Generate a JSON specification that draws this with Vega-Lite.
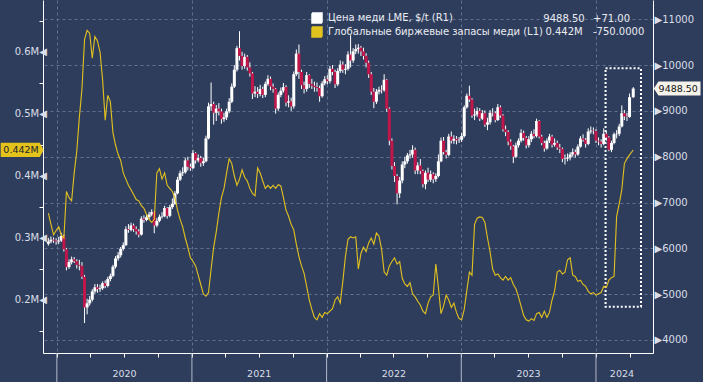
{
"$schema": "https://vega.github.io/schema/vega-lite/v6.json",
"width": 610, "height": 353,
"autosize": "none",
"padding": {"left": 43, "top": 0, "right": 50, "bottom": 29},
"background": "#2f3d5d",
"config": {
  "view": {"stroke": null},
  "font": "DejaVu Sans",
  "axis": {"labelFont": "DejaVu Sans", "labelColor": "#d9dee7", "domainColor": "#e8e8e8", "tickColor": "#ffffff", "gridColor": "#62708f", "gridDash": [3,3], "gridWidth": 1},
  "legend": {"labelFont": "DejaVu Sans", "labelFontSize": 10, "labelColor": "#e9ecf1", "labelLimit": 400}
},
"data": {"format": {"parse": {"d": "date:'%Y-%m-%d'"}}, "values": [
{"d":"2019-12-09","o":6100,"h":6230,"l":6060,"c":6150,"s":0.340},
{"d":"2019-12-16","o":6150,"h":6260,"l":6110,"c":6190,"s":0.322},
{"d":"2019-12-23","o":6190,"h":6240,"l":6120,"c":6170,"s":0.305},
{"d":"2019-12-30","o":6170,"h":6220,"l":6080,"c":6150,"s":0.312},
{"d":"2020-01-06","o":6150,"h":6250,"l":6090,"c":6170,"s":0.318},
{"d":"2020-01-13","o":6170,"h":6340,"l":6140,"c":6270,"s":0.305},
{"d":"2020-01-20","o":6270,"h":6300,"l":5930,"c":5980,"s":0.300},
{"d":"2020-01-27","o":5980,"h":6010,"l":5520,"c":5590,"s":0.375},
{"d":"2020-02-03","o":5590,"h":5760,"l":5550,"c":5700,"s":0.365},
{"d":"2020-02-10","o":5700,"h":5820,"l":5650,"c":5760,"s":0.360},
{"d":"2020-02-17","o":5760,"h":5810,"l":5680,"c":5720,"s":0.405},
{"d":"2020-02-24","o":5720,"h":5760,"l":5560,"c":5640,"s":0.440},
{"d":"2020-03-02","o":5640,"h":5750,"l":5520,"c":5620,"s":0.495},
{"d":"2020-03-09","o":5620,"h":5700,"l":5330,"c":5380,"s":0.540},
{"d":"2020-03-16","o":5380,"h":5420,"l":4370,"c":4710,"s":0.620},
{"d":"2020-03-23","o":4710,"h":4900,"l":4560,"c":4800,"s":0.635},
{"d":"2020-03-30","o":4800,"h":4960,"l":4750,"c":4880,"s":0.630},
{"d":"2020-04-06","o":4880,"h":5110,"l":4840,"c":5060,"s":0.590},
{"d":"2020-04-13","o":5060,"h":5220,"l":5010,"c":5150,"s":0.625},
{"d":"2020-04-20","o":5150,"h":5220,"l":5030,"c":5110,"s":0.618},
{"d":"2020-04-27","o":5110,"h":5210,"l":5050,"c":5130,"s":0.600},
{"d":"2020-05-04","o":5130,"h":5280,"l":5090,"c":5240,"s":0.555},
{"d":"2020-05-11","o":5240,"h":5300,"l":5130,"c":5180,"s":0.490},
{"d":"2020-05-18","o":5180,"h":5380,"l":5150,"c":5330,"s":0.530},
{"d":"2020-05-25","o":5330,"h":5450,"l":5280,"c":5400,"s":0.520},
{"d":"2020-06-01","o":5400,"h":5640,"l":5370,"c":5600,"s":0.470},
{"d":"2020-06-08","o":5600,"h":5830,"l":5560,"c":5780,"s":0.450},
{"d":"2020-06-15","o":5780,"h":5920,"l":5730,"c":5850,"s":0.435},
{"d":"2020-06-22","o":5850,"h":6030,"l":5800,"c":5990,"s":0.425},
{"d":"2020-06-29","o":5990,"h":6130,"l":5950,"c":6070,"s":0.405},
{"d":"2020-07-06","o":6070,"h":6480,"l":6050,"c":6420,"s":0.395},
{"d":"2020-07-13","o":6420,"h":6530,"l":6340,"c":6400,"s":0.385},
{"d":"2020-07-20","o":6400,"h":6560,"l":6370,"c":6500,"s":0.378},
{"d":"2020-07-27","o":6500,"h":6540,"l":6360,"c":6420,"s":0.370},
{"d":"2020-08-03","o":6420,"h":6480,"l":6300,"c":6370,"s":0.362},
{"d":"2020-08-10","o":6370,"h":6420,"l":6240,"c":6300,"s":0.360},
{"d":"2020-08-17","o":6300,"h":6700,"l":6280,"c":6650,"s":0.352},
{"d":"2020-08-24","o":6650,"h":6720,"l":6560,"c":6620,"s":0.348},
{"d":"2020-08-31","o":6620,"h":6740,"l":6590,"c":6680,"s":0.338},
{"d":"2020-09-07","o":6680,"h":6800,"l":6640,"c":6740,"s":0.330},
{"d":"2020-09-14","o":6740,"h":6850,"l":6700,"c":6790,"s":0.325},
{"d":"2020-09-21","o":6790,"h":6810,"l":6330,"c":6500,"s":0.330},
{"d":"2020-09-28","o":6500,"h":6660,"l":6460,"c":6600,"s":0.405},
{"d":"2020-10-05","o":6600,"h":6740,"l":6570,"c":6690,"s":0.412},
{"d":"2020-10-12","o":6690,"h":6790,"l":6650,"c":6700,"s":0.395},
{"d":"2020-10-19","o":6700,"h":6930,"l":6680,"c":6880,"s":0.405},
{"d":"2020-10-26","o":6880,"h":6900,"l":6650,"c":6710,"s":0.385},
{"d":"2020-11-02","o":6710,"h":6950,"l":6680,"c":6900,"s":0.380},
{"d":"2020-11-09","o":6900,"h":7090,"l":6860,"c":6970,"s":0.375},
{"d":"2020-11-16","o":6970,"h":7250,"l":6950,"c":7200,"s":0.365},
{"d":"2020-11-23","o":7200,"h":7560,"l":7180,"c":7500,"s":0.345},
{"d":"2020-11-30","o":7500,"h":7700,"l":7470,"c":7640,"s":0.330},
{"d":"2020-12-07","o":7640,"h":7770,"l":7580,"c":7660,"s":0.318},
{"d":"2020-12-14","o":7660,"h":7980,"l":7630,"c":7920,"s":0.300},
{"d":"2020-12-21","o":7920,"h":8000,"l":7700,"c":7780,"s":0.285},
{"d":"2020-12-28","o":7780,"h":7850,"l":7690,"c":7750,"s":0.268},
{"d":"2021-01-04","o":7750,"h":8150,"l":7730,"c":8080,"s":0.262},
{"d":"2021-01-11","o":8080,"h":8100,"l":7850,"c":7920,"s":0.255},
{"d":"2021-01-18","o":7920,"h":8050,"l":7880,"c":7970,"s":0.240},
{"d":"2021-01-25","o":7970,"h":8020,"l":7780,"c":7860,"s":0.225},
{"d":"2021-02-01","o":7860,"h":7980,"l":7800,"c":7900,"s":0.210},
{"d":"2021-02-08","o":7900,"h":8460,"l":7880,"c":8400,"s":0.206},
{"d":"2021-02-15","o":8400,"h":9180,"l":8380,"c":9100,"s":0.212},
{"d":"2021-02-22","o":9100,"h":9620,"l":9000,"c":9150,"s":0.250},
{"d":"2021-03-01","o":9150,"h":9200,"l":8700,"c":8960,"s":0.285},
{"d":"2021-03-08","o":8960,"h":9130,"l":8780,"c":9050,"s":0.310},
{"d":"2021-03-15","o":9050,"h":9170,"l":8900,"c":8990,"s":0.340},
{"d":"2021-03-22","o":8990,"h":9050,"l":8720,"c":8820,"s":0.365},
{"d":"2021-03-29","o":8820,"h":8960,"l":8760,"c":8860,"s":0.380},
{"d":"2021-04-05","o":8860,"h":9050,"l":8800,"c":8990,"s":0.405},
{"d":"2021-04-12","o":8990,"h":9280,"l":8950,"c":9200,"s":0.428},
{"d":"2021-04-19","o":9200,"h":9600,"l":9170,"c":9530,"s":0.420},
{"d":"2021-04-26","o":9530,"h":10000,"l":9500,"c":9900,"s":0.400},
{"d":"2021-05-03","o":9900,"h":10420,"l":9860,"c":10370,"s":0.385},
{"d":"2021-05-10","o":10370,"h":10740,"l":10100,"c":10200,"s":0.395},
{"d":"2021-05-17","o":10200,"h":10290,"l":9900,"c":9980,"s":0.410},
{"d":"2021-05-24","o":9980,"h":10250,"l":9920,"c":10180,"s":0.398},
{"d":"2021-05-31","o":10180,"h":10220,"l":9880,"c":9950,"s":0.392},
{"d":"2021-06-07","o":9950,"h":10060,"l":9750,"c":9820,"s":0.380},
{"d":"2021-06-14","o":9820,"h":9850,"l":9260,"c":9380,"s":0.372},
{"d":"2021-06-21","o":9380,"h":9540,"l":9300,"c":9420,"s":0.368},
{"d":"2021-06-28","o":9420,"h":9520,"l":9280,"c":9370,"s":0.413},
{"d":"2021-07-05","o":9370,"h":9570,"l":9320,"c":9480,"s":0.405},
{"d":"2021-07-12","o":9480,"h":9530,"l":9280,"c":9350,"s":0.392},
{"d":"2021-07-19","o":9350,"h":9640,"l":9300,"c":9590,"s":0.380},
{"d":"2021-07-26","o":9590,"h":9780,"l":9550,"c":9700,"s":0.385},
{"d":"2021-08-02","o":9700,"h":9750,"l":9450,"c":9530,"s":0.380},
{"d":"2021-08-09","o":9530,"h":9600,"l":9400,"c":9480,"s":0.385},
{"d":"2021-08-16","o":9480,"h":9500,"l":8940,"c":9050,"s":0.380},
{"d":"2021-08-23","o":9050,"h":9400,"l":9000,"c":9350,"s":0.386},
{"d":"2021-08-30","o":9350,"h":9510,"l":9300,"c":9440,"s":0.384},
{"d":"2021-09-06","o":9440,"h":9610,"l":9400,"c":9520,"s":0.365},
{"d":"2021-09-13","o":9520,"h":9560,"l":9100,"c":9180,"s":0.345},
{"d":"2021-09-20","o":9180,"h":9340,"l":9080,"c":9210,"s":0.335},
{"d":"2021-09-27","o":9210,"h":9290,"l":9000,"c":9100,"s":0.322},
{"d":"2021-10-04","o":9100,"h":9860,"l":9050,"c":9800,"s":0.313},
{"d":"2021-10-11","o":9800,"h":10340,"l":9760,"c":10250,"s":0.290},
{"d":"2021-10-18","o":10250,"h":10450,"l":9700,"c":9850,"s":0.270},
{"d":"2021-10-25","o":9850,"h":9900,"l":9480,"c":9560,"s":0.255},
{"d":"2021-11-01","o":9560,"h":9640,"l":9380,"c":9480,"s":0.243},
{"d":"2021-11-08","o":9480,"h":9850,"l":9420,"c":9780,"s":0.222},
{"d":"2021-11-15","o":9780,"h":9800,"l":9500,"c":9590,"s":0.200},
{"d":"2021-11-22","o":9590,"h":9700,"l":9480,"c":9550,"s":0.185},
{"d":"2021-11-29","o":9550,"h":9640,"l":9420,"c":9520,"s":0.172},
{"d":"2021-12-06","o":9520,"h":9620,"l":9420,"c":9500,"s":0.168},
{"d":"2021-12-13","o":9500,"h":9550,"l":9200,"c":9320,"s":0.178},
{"d":"2021-12-20","o":9320,"h":9650,"l":9290,"c":9600,"s":0.172},
{"d":"2021-12-27","o":9600,"h":9760,"l":9560,"c":9690,"s":0.180},
{"d":"2022-01-03","o":9690,"h":9780,"l":9580,"c":9650,"s":0.178},
{"d":"2022-01-10","o":9650,"h":9980,"l":9600,"c":9920,"s":0.182},
{"d":"2022-01-17","o":9920,"h":10000,"l":9780,"c":9850,"s":0.186},
{"d":"2022-01-24","o":9850,"h":9900,"l":9500,"c":9580,"s":0.200},
{"d":"2022-01-31","o":9580,"h":9930,"l":9540,"c":9870,"s":0.205},
{"d":"2022-02-07","o":9870,"h":10100,"l":9830,"c":10010,"s":0.195},
{"d":"2022-02-14","o":10010,"h":10080,"l":9830,"c":9900,"s":0.230},
{"d":"2022-02-21","o":9900,"h":10020,"l":9800,"c":9920,"s":0.270},
{"d":"2022-02-28","o":9920,"h":10300,"l":9880,"c":10230,"s":0.298},
{"d":"2022-03-07","o":10230,"h":10650,"l":9950,"c":10100,"s":0.302},
{"d":"2022-03-14","o":10100,"h":10370,"l":10050,"c":10300,"s":0.300},
{"d":"2022-03-21","o":10300,"h":10450,"l":10240,"c":10350,"s":0.302},
{"d":"2022-03-28","o":10350,"h":10460,"l":10250,"c":10380,"s":0.250},
{"d":"2022-04-04","o":10380,"h":10420,"l":10200,"c":10300,"s":0.275},
{"d":"2022-04-11","o":10300,"h":10380,"l":10120,"c":10200,"s":0.285},
{"d":"2022-04-18","o":10200,"h":10260,"l":9950,"c":10050,"s":0.278},
{"d":"2022-04-25","o":10050,"h":10100,"l":9720,"c":9800,"s":0.292},
{"d":"2022-05-02","o":9800,"h":9850,"l":9350,"c":9420,"s":0.300},
{"d":"2022-05-09","o":9420,"h":9500,"l":9060,"c":9200,"s":0.290},
{"d":"2022-05-16","o":9200,"h":9480,"l":9150,"c":9420,"s":0.308},
{"d":"2022-05-23","o":9420,"h":9530,"l":9360,"c":9460,"s":0.303},
{"d":"2022-05-30","o":9460,"h":9560,"l":9380,"c":9450,"s":0.282},
{"d":"2022-06-06","o":9450,"h":9800,"l":9420,"c":9680,"s":0.245},
{"d":"2022-06-13","o":9680,"h":9700,"l":8980,"c":9050,"s":0.240},
{"d":"2022-06-20","o":9050,"h":9080,"l":8250,"c":8350,"s":0.255},
{"d":"2022-06-27","o":8350,"h":8400,"l":7720,"c":7800,"s":0.262},
{"d":"2022-07-04","o":7800,"h":7880,"l":7450,"c":7580,"s":0.268},
{"d":"2022-07-11","o":7580,"h":7620,"l":6960,"c":7200,"s":0.258},
{"d":"2022-07-18","o":7200,"h":7560,"l":7100,"c":7480,"s":0.262},
{"d":"2022-07-25","o":7480,"h":7900,"l":7420,"c":7830,"s":0.235},
{"d":"2022-08-01","o":7830,"h":8000,"l":7750,"c":7900,"s":0.226},
{"d":"2022-08-08","o":7900,"h":8080,"l":7850,"c":8030,"s":0.222},
{"d":"2022-08-15","o":8030,"h":8150,"l":7960,"c":8050,"s":0.228},
{"d":"2022-08-22","o":8050,"h":8250,"l":7980,"c":8150,"s":0.210},
{"d":"2022-08-29","o":8150,"h":8200,"l":7620,"c":7700,"s":0.205},
{"d":"2022-09-05","o":7700,"h":7880,"l":7620,"c":7810,"s":0.198},
{"d":"2022-09-12","o":7810,"h":7950,"l":7620,"c":7690,"s":0.192},
{"d":"2022-09-19","o":7690,"h":7720,"l":7330,"c":7400,"s":0.182},
{"d":"2022-09-26","o":7400,"h":7700,"l":7290,"c":7650,"s":0.178},
{"d":"2022-10-03","o":7650,"h":7760,"l":7450,"c":7500,"s":0.195},
{"d":"2022-10-10","o":7500,"h":7700,"l":7450,"c":7620,"s":0.205},
{"d":"2022-10-17","o":7620,"h":7660,"l":7420,"c":7510,"s":0.208},
{"d":"2022-10-24","o":7510,"h":7640,"l":7450,"c":7580,"s":0.258},
{"d":"2022-10-31","o":7580,"h":8050,"l":7550,"c":7900,"s":0.220},
{"d":"2022-11-07","o":7900,"h":8420,"l":7880,"c":8350,"s":0.178},
{"d":"2022-11-14","o":8350,"h":8430,"l":8050,"c":8100,"s":0.190},
{"d":"2022-11-21","o":8100,"h":8150,"l":7960,"c":8040,"s":0.208},
{"d":"2022-11-28","o":8040,"h":8500,"l":8010,"c":8440,"s":0.200},
{"d":"2022-12-05","o":8440,"h":8550,"l":8290,"c":8350,"s":0.188},
{"d":"2022-12-12","o":8350,"h":8470,"l":8280,"c":8390,"s":0.195},
{"d":"2022-12-19","o":8390,"h":8450,"l":8270,"c":8360,"s":0.180},
{"d":"2022-12-26","o":8360,"h":8430,"l":8300,"c":8370,"s":0.170},
{"d":"2023-01-02","o":8370,"h":8520,"l":8320,"c":8450,"s":0.168},
{"d":"2023-01-09","o":8450,"h":9120,"l":8420,"c":9080,"s":0.185},
{"d":"2023-01-16","o":9080,"h":9380,"l":9050,"c":9330,"s":0.215},
{"d":"2023-01-23","o":9330,"h":9550,"l":9200,"c":9250,"s":0.245},
{"d":"2023-01-30","o":9250,"h":9280,"l":8850,"c":8900,"s":0.240},
{"d":"2023-02-06","o":8900,"h":9050,"l":8800,"c":8920,"s":0.322},
{"d":"2023-02-13","o":8920,"h":9080,"l":8870,"c":9000,"s":0.332},
{"d":"2023-02-20","o":9000,"h":9060,"l":8780,"c":8830,"s":0.334},
{"d":"2023-02-27","o":8830,"h":9020,"l":8800,"c":8950,"s":0.333},
{"d":"2023-03-06","o":8950,"h":9010,"l":8650,"c":8700,"s":0.325},
{"d":"2023-03-13","o":8700,"h":8850,"l":8580,"c":8750,"s":0.300},
{"d":"2023-03-20","o":8750,"h":9020,"l":8700,"c":8960,"s":0.278},
{"d":"2023-03-27","o":8960,"h":9060,"l":8880,"c":8950,"s":0.250},
{"d":"2023-04-03","o":8950,"h":8990,"l":8750,"c":8800,"s":0.240},
{"d":"2023-04-10","o":8800,"h":9150,"l":8780,"c":9080,"s":0.242},
{"d":"2023-04-17","o":9080,"h":9120,"l":8850,"c":8900,"s":0.236},
{"d":"2023-04-24","o":8900,"h":8930,"l":8550,"c":8600,"s":0.232},
{"d":"2023-05-01","o":8600,"h":8680,"l":8450,"c":8540,"s":0.238},
{"d":"2023-05-08","o":8540,"h":8580,"l":8250,"c":8330,"s":0.232},
{"d":"2023-05-15","o":8330,"h":8380,"l":8150,"c":8230,"s":0.236},
{"d":"2023-05-22","o":8230,"h":8260,"l":7860,"c":8000,"s":0.225},
{"d":"2023-05-29","o":8000,"h":8310,"l":7970,"c":8250,"s":0.218},
{"d":"2023-06-05","o":8250,"h":8400,"l":8200,"c":8350,"s":0.205},
{"d":"2023-06-12","o":8350,"h":8600,"l":8310,"c":8520,"s":0.190},
{"d":"2023-06-19","o":8520,"h":8570,"l":8350,"c":8410,"s":0.175},
{"d":"2023-06-26","o":8410,"h":8450,"l":8180,"c":8250,"s":0.168},
{"d":"2023-07-03","o":8250,"h":8450,"l":8200,"c":8380,"s":0.166},
{"d":"2023-07-10","o":8380,"h":8560,"l":8320,"c":8500,"s":0.170},
{"d":"2023-07-17","o":8500,"h":8600,"l":8400,"c":8450,"s":0.167},
{"d":"2023-07-24","o":8450,"h":8830,"l":8420,"c":8780,"s":0.178},
{"d":"2023-07-31","o":8780,"h":8800,"l":8400,"c":8440,"s":0.180},
{"d":"2023-08-07","o":8440,"h":8480,"l":8250,"c":8300,"s":0.172},
{"d":"2023-08-14","o":8300,"h":8350,"l":8110,"c":8180,"s":0.182},
{"d":"2023-08-21","o":8180,"h":8400,"l":8150,"c":8350,"s":0.172},
{"d":"2023-08-28","o":8350,"h":8500,"l":8300,"c":8440,"s":0.180},
{"d":"2023-09-04","o":8440,"h":8480,"l":8200,"c":8260,"s":0.200},
{"d":"2023-09-11","o":8260,"h":8400,"l":8220,"c":8300,"s":0.215},
{"d":"2023-09-18","o":8300,"h":8350,"l":8150,"c":8200,"s":0.245},
{"d":"2023-09-25","o":8200,"h":8280,"l":8080,"c":8170,"s":0.248},
{"d":"2023-10-02","o":8170,"h":8200,"l":7880,"c":7950,"s":0.242},
{"d":"2023-10-09","o":7950,"h":8050,"l":7830,"c":7960,"s":0.245},
{"d":"2023-10-16","o":7960,"h":8070,"l":7900,"c":7980,"s":0.265},
{"d":"2023-10-23","o":7980,"h":8100,"l":7920,"c":8050,"s":0.268},
{"d":"2023-10-30","o":8050,"h":8180,"l":8000,"c":8100,"s":0.240},
{"d":"2023-11-06","o":8100,"h":8160,"l":7980,"c":8050,"s":0.238},
{"d":"2023-11-13","o":8050,"h":8270,"l":8020,"c":8220,"s":0.230},
{"d":"2023-11-20","o":8220,"h":8450,"l":8200,"c":8400,"s":0.232},
{"d":"2023-11-27","o":8400,"h":8490,"l":8330,"c":8370,"s":0.225},
{"d":"2023-12-04","o":8370,"h":8410,"l":8200,"c":8280,"s":0.222},
{"d":"2023-12-11","o":8280,"h":8620,"l":8250,"c":8550,"s":0.214},
{"d":"2023-12-18","o":8550,"h":8660,"l":8500,"c":8570,"s":0.210},
{"d":"2023-12-25","o":8570,"h":8640,"l":8490,"c":8560,"s":0.212},
{"d":"2024-01-01","o":8560,"h":8600,"l":8300,"c":8350,"s":0.208},
{"d":"2024-01-08","o":8350,"h":8420,"l":8250,"c":8330,"s":0.210},
{"d":"2024-01-15","o":8330,"h":8380,"l":8200,"c":8280,"s":0.212},
{"d":"2024-01-22","o":8280,"h":8620,"l":8250,"c":8500,"s":0.222},
{"d":"2024-01-29","o":8500,"h":8560,"l":8350,"c":8420,"s":0.220},
{"d":"2024-02-05","o":8420,"h":8450,"l":8120,"c":8150,"s":0.232},
{"d":"2024-02-12","o":8150,"h":8350,"l":8100,"c":8300,"s":0.236},
{"d":"2024-02-19","o":8300,"h":8530,"l":8270,"c":8490,"s":0.238},
{"d":"2024-02-26","o":8490,"h":8580,"l":8400,"c":8500,"s":0.335},
{"d":"2024-03-04","o":8500,"h":8720,"l":8450,"c":8660,"s":0.355},
{"d":"2024-03-11","o":8660,"h":9120,"l":8640,"c":8950,"s":0.378},
{"d":"2024-03-18","o":8950,"h":9020,"l":8800,"c":8880,"s":0.420},
{"d":"2024-03-25","o":8880,"h":8960,"l":8780,"c":8870,"s":0.428},
{"d":"2024-04-01","o":8870,"h":9380,"l":8850,"c":9300,"s":0.434},
{"d":"2024-04-11","o":9300,"h":9520,"l":9280,"c":9488.5,"s":0.442}
]},
"encoding": {
  "x": {"field": "d", "type": "temporal",
    "scale": {"domain": [{"year":2019,"month":12,"date":8},{"year":2024,"month":5,"date":21}]},
    "axis": {
      "title": null,
      "values": [{"year":2020,"month":1,"date":1},{"year":2020,"month":4,"date":1},{"year":2020,"month":7,"date":1},{"year":2020,"month":10,"date":1},
                 {"year":2021,"month":1,"date":1},{"year":2021,"month":4,"date":1},{"year":2021,"month":7,"date":1},{"year":2021,"month":10,"date":1},
                 {"year":2022,"month":1,"date":1},{"year":2022,"month":4,"date":1},{"year":2022,"month":7,"date":1},{"year":2022,"month":10,"date":1},
                 {"year":2023,"month":1,"date":1},{"year":2023,"month":4,"date":1},{"year":2023,"month":7,"date":1},{"year":2023,"month":10,"date":1},
                 {"year":2024,"month":1,"date":1},{"year":2024,"month":3,"date":10},{"year":2024,"month":4,"date":1}],
      "labelExpr": "(month(datum.value)==6 && date(datum.value)==1) || date(datum.value)==10 ? timeFormat(datum.value, '%Y') : ''",
      "labelFontSize": 9.5, "labelPadding": 11, "labelFlush": false, "labelOverlap": false, "labelAlign": "center",
      "domainColor": "#ffffff",
      "tickSize": 4,
      "tickColor": "#ffffff",
      "tickOpacity": {"condition": {"test": "date(datum.value)==10", "value": 0}, "value": 1},
      "grid": true,
      "gridOpacity": {"condition": {"test": "month(datum.value)==0 && date(datum.value)==1", "value": 1}, "value": 0}
    }
  }
},
"layer": [
  {
    "layer": [
      {"data": {"values": [{"k": 1}]},
       "mark": {"type": "rect", "fill": "#2f3d5d", "stroke": "#0e1422", "strokeWidth": 1, "cornerRadius": 3},
       "encoding": {
         "x": {"datum": {"expr": "datetime(2021, 9, 31)"}, "type": "temporal"},
         "x2": {"datum": {"expr": "datetime(2024, 4, 8)"}},
         "y": {"datum": 11356, "type": "quantitative", "scale": {"domain": [3716, 11421], "nice": false, "zero": false}},
         "y2": {"datum": 10504}
       }},
      {"transform": [{"filter": "datum.c == 9488.5"}],
       "mark": {"type": "rect", "fill": "transparent", "stroke": "#ffffff", "strokeWidth": 2, "strokeDash": [2,2]},
       "encoding": {
         "x": {"datum": {"expr": "datetime(2024, 0, 27)"}, "type": "temporal"},
         "x2": {"datum": {"expr": "datetime(2024, 4, 2)"}},
         "y": {"datum": 9930, "type": "quantitative", "scale": {"domain": [3716, 11421], "nice": false, "zero": false}},
         "y2": {"datum": 4727}
       }},
      {"data": {"values": [{"yb":"2020-01-01"},{"yb":"2021-01-01"},{"yb":"2022-01-01"},{"yb":"2023-01-01"},{"yb":"2024-01-01"}], "format": {"parse": {"yb": "date:'%Y-%m-%d'"}}},
       "mark": {"type": "rule", "stroke": "#b3bac8", "strokeWidth": 1},
       "encoding": {
         "x": {"field": "yb", "type": "temporal"},
         "y": {"datum": 3716, "type": "quantitative", "scale": {"domain": [3716, 11421], "nice": false, "zero": false}},
         "y2": {"datum": 3083}
       }},
      {"mark": {"type": "rule", "strokeWidth": 1},
       "encoding": {
         "y": {"field": "l", "type": "quantitative", "scale": {"domain": [3716, 11421], "nice": false, "zero": false},
           "axis": {"orient": "right", "title": null,
             "values": [4000,4500,5000,5500,6000,6500,7000,7500,8000,8500,9000,9500,10000,10500,11000],
             "labelExpr": "datum.value % 1000 == 0 ? '▶' + datum.value : ''",
             "labelFontSize": 10, "labelPadding": -4, "tickSize": 5,
             "domainColor": "#ffffff",
             "tickOpacity": {"condition": {"test": "datum.value % 1000 == 0", "value": 0}, "value": 1},
             "grid": true,
             "gridOpacity": {"condition": {"test": "datum.value % 1000 == 0", "value": 1}, "value": 0}
           }},
         "y2": {"field": "h"},
         "color": {"datum": "Цена меди LME, $/t (R1)",
           "scale": {"domain": ["Цена меди LME, $/t (R1)", "Глобальные биржевые запасы меди (L1)"], "range": ["#ffffff", "#e2c21e"]},
           "legend": {"orient": "none", "legendX": 268, "legendY": 12, "title": null, "symbolType": "M-1,-1H1V-0.8H-1V-0.6H1V-0.4H-1V-0.2H1V0H-1V0.2H1V0.4H-1V0.6H1V0.8H-1V1H1", "symbolSize": 100, "symbolOpacity": 1, "labelOffset": 5, "rowPadding": -3, "padding": 0, "labelFontSize": 10}}
       }},
      {"mark": {"type": "bar", "width": 3},
       "encoding": {
         "y": {"field": "o", "type": "quantitative", "scale": {"domain": [3716, 11421], "nice": false, "zero": false}},
         "y2": {"field": "c"},
         "fill": {"condition": {"test": "datum.c < datum.o", "value": "#c0164a"}, "value": "#ffffff"}
       }},
      {"transform": [{"filter": "datum.c == 9488.5"}],
       "mark": {"type": "point", "shape": "M-1,0L-0.8,-0.3L1,-0.3L1,0.3L-0.8,0.3Z", "size": 2181, "filled": true, "fill": "#f5f2ea", "opacity": 1},
       "encoding": {
         "x": {"datum": {"year":2024,"month":8,"date":8}, "type": "temporal"},
         "y": {"field": "c", "type": "quantitative", "scale": {"domain": [3716, 11421], "nice": false, "zero": false}},
         "strokeDash": {"datum": "9488.50",
           "scale": {"domain": ["9488.50", "0.442M"], "range": [[1,0],[1,0]]},
           "legend": {"orient": "none", "legendX": 511, "legendY": 14, "title": null, "symbolSize": 0, "symbolOpacity": 0, "symbolStrokeWidth": 0, "labelAlign": "center", "labelOffset": 0, "rowPadding": 3, "padding": 0, "labelFontSize": 10}},
         "strokeWidth": {"datum": "+71.00",
           "scale": {"domain": ["+71.00", "-750.0000"]},
           "legend": {"orient": "none", "legendX": 540, "legendY": 14, "title": null, "symbolSize": 0, "symbolOpacity": 0, "symbolStrokeWidth": 0, "labelAlign": "left", "labelOffset": 0, "rowPadding": 3, "padding": 0, "labelFontSize": 10}}
       }},
      {"transform": [{"filter": "datum.c == 9488.5"}],
       "mark": {"type": "text", "font": "DejaVu Sans", "fontSize": 9.5, "color": "#111111", "align": "center", "baseline": "middle"},
       "encoding": {
         "x": {"datum": {"year":2024,"month":8,"date":11}, "type": "temporal"},
         "y": {"field": "c", "type": "quantitative", "scale": {"domain": [3716, 11421], "nice": false, "zero": false}},
         "text": {"field": "c", "format": ".2f"}
       }}
    ]
  },
  {
    "layer": [
      {"mark": {"type": "line", "strokeWidth": 1.1},
       "encoding": {
         "y": {"field": "s", "type": "quantitative", "scale": {"domain": [0.1145, 0.6839], "nice": false, "zero": false},
           "axis": {"orient": "left", "title": null, "labels": false,
             "values": [0.15,0.2,0.25,0.3,0.35,0.4,0.45,0.5,0.55,0.6,0.65],
             "tickSize": 4,
             "domainColor": "#ffffff",
             "tickOpacity": {"condition": {"test": "abs(datum.value*10 - round(datum.value*10)) < 0.01", "value": 0}, "value": 1},
             "grid": false
           }},
         "color": {"datum": "Глобальные биржевые запасы меди (L1)",
           "scale": {"domain": ["Цена меди LME, $/t (R1)", "Глобальные биржевые запасы меди (L1)"], "range": ["#ffffff", "#e2c21e"]},
           "legend": {"orient": "none", "legendX": 268, "legendY": 12, "title": null, "symbolType": "M-1,-1H1V-0.8H-1V-0.6H1V-0.4H-1V-0.2H1V0H-1V0.2H1V0.4H-1V0.6H1V0.8H-1V1H1", "symbolSize": 100, "symbolOpacity": 1, "labelOffset": 5, "rowPadding": -3, "padding": 0, "labelFontSize": 10}}
       }},
      {"transform": [{"filter": "datum.c == 9488.5"}],
       "mark": {"type": "text", "font": "DejaVu Sans", "fontSize": 10, "color": "#d9dee7", "align": "right", "baseline": "middle"},
       "encoding": {
         "x": {"datum": {"year":2019,"month":12,"date":5}, "type": "temporal"},
         "y": {"datum": 0.6, "type": "quantitative", "scale": {"domain": [0.1145, 0.6839], "nice": false, "zero": false}},
         "text": {"value": "0.6M◀"}
       }},
      {"transform": [{"filter": "datum.c == 9488.5"}],
       "mark": {"type": "text", "font": "DejaVu Sans", "fontSize": 10, "color": "#d9dee7", "align": "right", "baseline": "middle"},
       "encoding": {
         "x": {"datum": {"year":2019,"month":12,"date":5}, "type": "temporal"},
         "y": {"datum": 0.5, "type": "quantitative", "scale": {"domain": [0.1145, 0.6839], "nice": false, "zero": false}},
         "text": {"value": "0.5M◀"}
       }},
      {"transform": [{"filter": "datum.c == 9488.5"}],
       "mark": {"type": "text", "font": "DejaVu Sans", "fontSize": 10, "color": "#d9dee7", "align": "right", "baseline": "middle"},
       "encoding": {
         "x": {"datum": {"year":2019,"month":12,"date":5}, "type": "temporal"},
         "y": {"datum": 0.4, "type": "quantitative", "scale": {"domain": [0.1145, 0.6839], "nice": false, "zero": false}},
         "text": {"value": "0.4M◀"}
       }},
      {"transform": [{"filter": "datum.c == 9488.5"}],
       "mark": {"type": "text", "font": "DejaVu Sans", "fontSize": 10, "color": "#d9dee7", "align": "right", "baseline": "middle"},
       "encoding": {
         "x": {"datum": {"year":2019,"month":12,"date":5}, "type": "temporal"},
         "y": {"datum": 0.3, "type": "quantitative", "scale": {"domain": [0.1145, 0.6839], "nice": false, "zero": false}},
         "text": {"value": "0.3M◀"}
       }},
      {"transform": [{"filter": "datum.c == 9488.5"}],
       "mark": {"type": "text", "font": "DejaVu Sans", "fontSize": 10, "color": "#d9dee7", "align": "right", "baseline": "middle"},
       "encoding": {
         "x": {"datum": {"year":2019,"month":12,"date":5}, "type": "temporal"},
         "y": {"datum": 0.2, "type": "quantitative", "scale": {"domain": [0.1145, 0.6839], "nice": false, "zero": false}},
         "text": {"value": "0.2M◀"}
       }},
      {"transform": [{"filter": "datum.c == 9488.5"}],
       "mark": {"type": "point", "shape": "M-1,-0.33L0.82,-0.33L1,0L0.82,0.33L-1,0.33Z", "size": 1849, "filled": true, "fill": "#e4c21c", "opacity": 1},
       "encoding": {
         "x": {"datum": {"year":2019,"month":9,"date":29}, "type": "temporal"},
         "y": {"field": "s", "type": "quantitative", "scale": {"domain": [0.1145, 0.6839], "nice": false, "zero": false}},
         "strokeDash": {"datum": "0.442M",
           "scale": {"domain": ["9488.50", "0.442M"], "range": [[1,0],[1,0]]},
           "legend": {"orient": "none", "legendX": 511, "legendY": 14, "title": null, "symbolSize": 0, "symbolOpacity": 0, "symbolStrokeWidth": 0, "labelAlign": "center", "labelOffset": 0, "rowPadding": 3, "padding": 0, "labelFontSize": 10}},
         "strokeWidth": {"datum": "-750.0000",
           "scale": {"domain": ["+71.00", "-750.0000"]},
           "legend": {"orient": "none", "legendX": 540, "legendY": 14, "title": null, "symbolSize": 0, "symbolOpacity": 0, "symbolStrokeWidth": 0, "labelAlign": "left", "labelOffset": 0, "rowPadding": 3, "padding": 0, "labelFontSize": 10}}
       }},
      {"transform": [{"filter": "datum.c == 9488.5"}, {"calculate": "format(datum.s, '.3f') + 'M'", "as": "lab"}],
       "mark": {"type": "text", "font": "DejaVu Sans", "fontSize": 9.5, "color": "#1a1f2b", "align": "center", "baseline": "middle"},
       "encoding": {
         "x": {"datum": {"year":2019,"month":9,"date":26}, "type": "temporal"},
         "y": {"field": "s", "type": "quantitative", "scale": {"domain": [0.1145, 0.6839], "nice": false, "zero": false}},
         "text": {"field": "lab"}
       }}
    ]
  }
],
"resolve": {"scale": {"y": "independent"}}
}
